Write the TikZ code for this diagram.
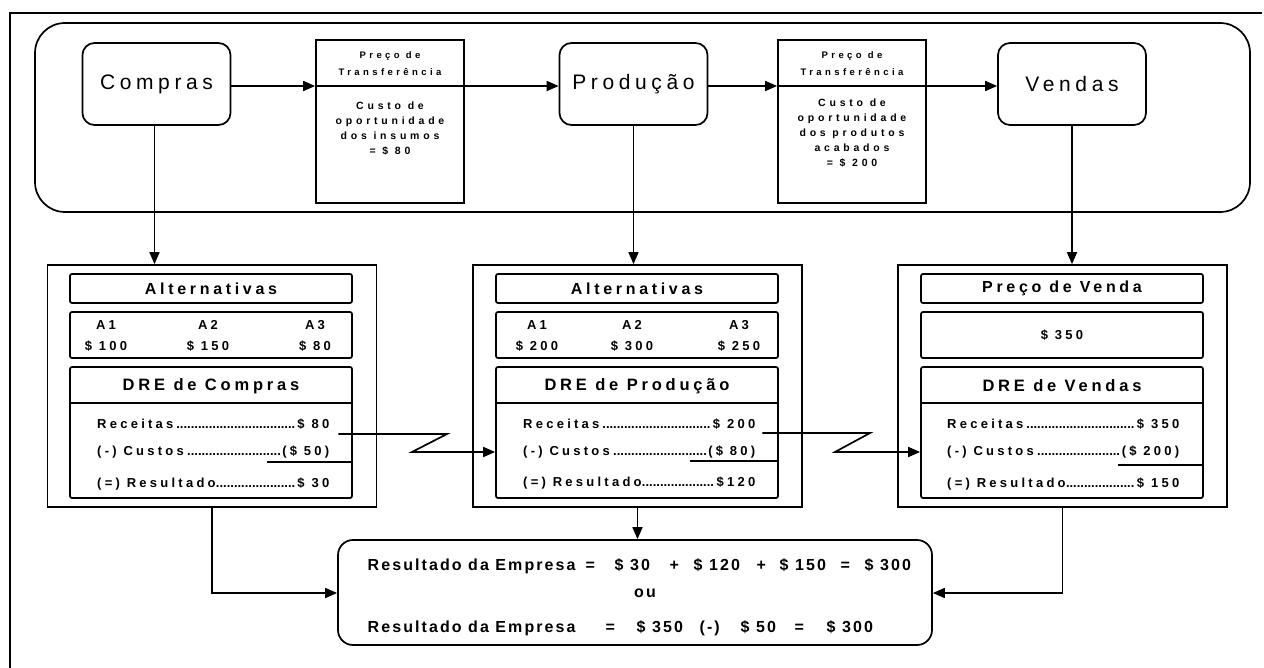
\documentclass[tikz,border=0pt]{standalone}
\usepackage{fontspec}
\setmainfont{Liberation Sans}
\newfontfamily\bigf[LetterSpace=22]{Liberation Sans}
\newfontfamily\hdf[LetterSpace=23]{Liberation Sans Bold}
\newfontfamily\lnf[LetterSpace=25]{Liberation Sans Bold}
\newfontfamily\tpf[LetterSpace=36]{Liberation Sans Bold}
\newfontfamily\rsf[LetterSpace=13]{Liberation Sans Bold}
\usetikzlibrary{arrows.meta}
\newcommand\lead[2]{\hbox to 232pt{#1\leaders\hbox to 3.6pt{\hss.\hss}\hfill#2}}
\newcommand\putat[2]{\makebox[0pt][l]{\hspace*{#1pt}#2}}
\tikzset{
 ln/.style={line width=1.7pt},
 arr/.style={ln,-{Triangle[length=12pt,width=10pt]}},
 topbox/.style={draw,ln,rounded corners=12pt,minimum width=148pt,minimum height=82pt,inner sep=0pt,font=\bigf\fontsize{21}{24}\selectfont},
 tpbox/.style={draw,ln,minimum width=148pt,minimum height=163pt,inner sep=0pt},
 tptext/.style={font=\tpf\fontsize{10.5}{15}\selectfont,align=center,inner sep=0pt},
 tphead/.style={font=\tpf\fontsize{9.5}{17}\selectfont,align=center,inner sep=0pt},
 cont/.style={draw,ln,minimum width=329pt,minimum height=242pt,inner sep=0pt},
 hdr/.style={draw,ln,rounded corners=2pt,minimum width=282pt,minimum height=29pt,inner sep=0pt,font=\hdf\fontsize{16}{18}\selectfont},
 abox/.style={draw,ln,rounded corners=2pt,minimum width=282pt,minimum height=46pt,inner sep=0pt},
 acol/.style={font=\lnf\fontsize{13}{21}\selectfont,align=center,inner sep=0pt},
 dre/.style={draw,ln,rounded corners=2pt,minimum width=282pt,minimum height=131pt,inner sep=0pt},
 drehead/.style={font=\hdf\fontsize{16.5}{18}\selectfont,inner sep=0pt},
 dreline/.style={font=\lnf\fontsize{13}{14}\selectfont,anchor=west,inner sep=0pt},
 resbox/.style={draw,ln,rounded corners=15pt,minimum width=594pt,minimum height=105pt,inner sep=0pt},
 restext/.style={font=\rsf\fontsize{16}{18}\selectfont,anchor=west,inner sep=0pt},
}
\begin{document}
\begin{tikzpicture}[x=1pt,y=-1pt]
\useasboundingbox (0,0) rectangle (1264,668);
\fill[white] (0,0) rectangle (1264,668);
% outer frame
\draw[ln] (10,668) -- (10,13) -- (1262,13);
% process band
\node[draw,ln,rounded corners=30pt,minimum width=1215pt,minimum height=189pt] (proc) at (642.5,117.5) {};
\node[topbox] (compras) at (156.5,84) {Compras};
\node[topbox] (prod) at (633.5,84) {Produção};
\node[topbox] (vendas) at (1072,84) {Vendas};
\node[tpbox] (tp1) at (390,121.5) {};
\node[tpbox] (tp2) at (852,121.5) {};
\node[tphead] (tp1h) at (390,64) {Preço de\\Transferência};
\node[tptext] (tp1b) at (390,129) {Custo de\\oportunidade\\dos insumos\\= \$ 80};
\node[tphead] (tp2h) at (852,64) {Preço de\\Transferência};
\node[tptext] (tp2b) at (852,133) {Custo de\\oportunidade\\dos produtos\\acabados\\= \$ 200};
\coordinate (a1) at (tp1.west |- 0,86);
\coordinate (a2) at (tp2.west |- 0,86);
\draw[arr] (compras.east |- a1) -- (a1);
\draw[arr] (a1) -- (prod.west |- a1);
\draw[arr] (prod.east |- a2) -- (a2);
\draw[arr] (a2) -- (vendas.west |- a2);
% containers
\node[cont] (L) at (212,386) {};
\node[cont] (M) at (637.5,386) {};
\node[cont] (R) at (1062.5,386) {};
\draw[arr] ([xshift=-2pt]compras.south) -- ([xshift=-2pt]compras.south |- L.north);
\draw[arr] (prod.south) -- (prod.south |- M.north);
\draw[arr] (vendas.south) -- (vendas.south |- R.north);
% left
\node[hdr] (lalt) at (211,288.5) {Alternativas};
\node[abox] (la) at (211,335) {};
\node[acol] (la1) at (106,336) {A1\\\$ 100};
\node[acol] (la2) at (208,336) {A2\\\$ 150};
\node[acol] (la3) at (315,336) {A3\\\$ 80};
\node[dre] (ldre) at (211,432.5) {};
\draw[ln] ([yshift=-37pt]ldre.north west) -- ([yshift=-37pt]ldre.north east);
\node[drehead] (ldreh) at (211,386) {DRE de Compras};
\node[dreline] (lrec) at (97,424) {\lead{Receitas}{\$ 80}};
\node[dreline] (lcus) at (97,452) {\lead{(-) Custos}{(\$ 50)}};
\node[dreline] (lres) at (97,484) {\lead{(=) Resultado}{\$ 30}};
\draw[ln] (267,462) -- (352,462);
% middle
\node[hdr] (malt) at (637,288.5) {Alternativas};
\node[abox] (ma) at (637,335) {};
\node[acol] (ma1) at (537,336) {A1\\\$ 200};
\node[acol] (ma2) at (632,336) {A2\\\$ 300};
\node[acol] (ma3) at (739,336) {A3\\\$ 250};
\node[dre] (mdre) at (637,432.5) {};
\draw[ln] ([yshift=-37pt]mdre.north west) -- ([yshift=-37pt]mdre.north east);
\node[drehead] (mdreh) at (637,386) {DRE de Produção};
\node[dreline] (mrec) at (523,424) {\lead{Receitas}{\$ 200}};
\node[dreline] (mcus) at (523,452) {\lead{(-) Custos}{(\$ 80)}};
\node[dreline] (mres) at (523,483) {\lead{(=) Resultado}{\$120}};
\draw[ln] (690,461) -- (778,461);
% right
\node[hdr] (ralt) at (1062,288.5) {Preço de Venda};
\node[abox] (ra) at (1062,335) {};
\node[acol] (rpv) at (1062,335) {\$ 350};
\node[dre] (rdre) at (1062,432.5) {};
\draw[ln] ([yshift=-37pt]rdre.north west) -- ([yshift=-37pt]rdre.north east);
\node[drehead] (rdreh) at (1062,386) {DRE de Vendas};
\node[dreline] (rrec) at (947,424) {\lead{Receitas}{\$ 350}};
\node[dreline] (rcus) at (947,452) {\lead{(-) Custos}{(\$ 200)}};
\node[dreline] (rres) at (947,484) {\lead{(=) Resultado}{\$ 150}};
\draw[ln] (1118,465) -- (1203,465);
% zigzag connectors
\draw[arr] ([xshift=9pt,yshift=-10pt]lrec.east) -- (447,434) -- (412,452) -- (mdre.west |- 0,452);
\draw[arr] ([xshift=7pt,yshift=-9pt]mrec.east) -- (870,433) -- (835,452) -- (rdre.west |- 0,452);
% result
\node[resbox] (res) at (635,592.5) {};
\draw[arr] (M.south) -- (M.south |- res.north);
\draw[arr] (L.south) -- (L.south |- 0,593) -- (res.west |- 0,593);
\draw[arr] (R.south) -- (R.south |- 0,593) -- (res.east |- 0,593);
\node[restext] (r1) at (367,566) {\putat{0}{Resultado da Empresa}\putat{218}{=}\putat{247}{\$ 30}\putat{302}{+}\putat{326}{\$ 120}\putat{389}{+}\putat{412}{\$ 150}\putat{473}{=}\putat{497}{\$ 300}};
\node[restext,anchor=center] (rou) at (645,593) {ou};
\node[restext] (r2) at (367,628) {\putat{0}{Resultado da Empresa}\putat{238}{=}\putat{269}{\$ 350}\putat{332}{(-)}\putat{373}{\$ 50}\putat{427}{=}\putat{459}{\$ 300}};
\end{tikzpicture}
\end{document}
